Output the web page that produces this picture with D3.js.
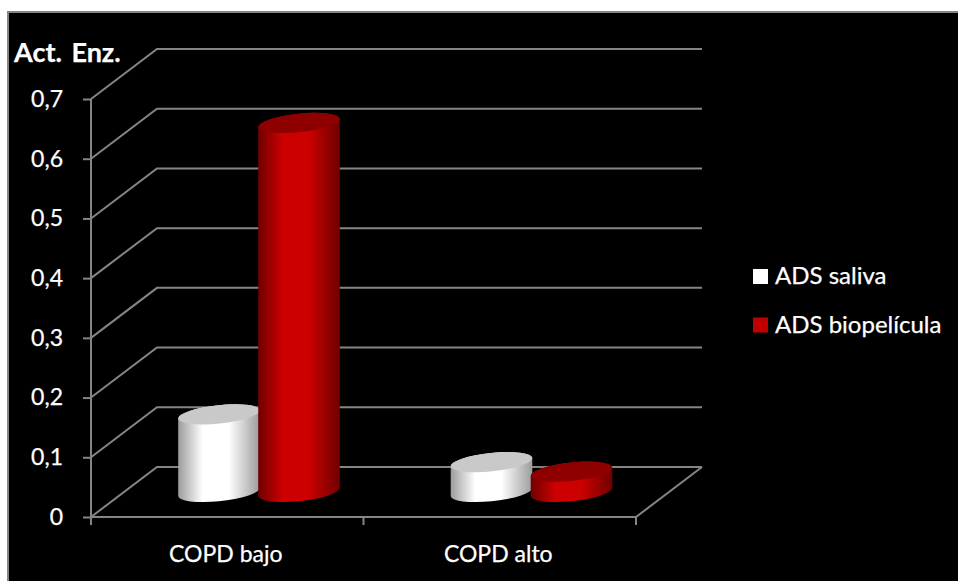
<!DOCTYPE html>
<html>
<head>
<meta charset="utf-8">
<script src="https://cdn.jsdelivr.net/npm/d3@7"></script>
<style>
html, body { margin: 0; padding: 0; background: #fff; }
svg { display: block; }
text { font-family: Lato, "Open Sans", sans-serif; fill: #fff; stroke: #fff; stroke-width: 0.25; }
</style>
</head>
<body>
<svg id="chart" width="958" height="581"></svg>
<script>
const categories = ["COPD bajo", "COPD alto"];
const seriesNames = ["ADS saliva", "ADS biopelícula"];
const salivaValues = [0.13, 0.05];
const biofilmValues = [0.618, 0.034];
const yTicks = [0, 0.1, 0.2, 0.3, 0.4, 0.5, 0.6, 0.7];
const yTitle = "Act. Enz.";

const W = 958, H = 581;
const svg = d3.select("#chart");

// Chart panel
svg.append("rect").attr("x", 8).attr("y", 12).attr("width", W).attr("height", H)
  .attr("fill", "#000").attr("stroke", "#858585").attr("stroke-width", 2);

// Oblique projection: the back wall sits up and to the right of the front plane
const depth = { x: 66, y: -50 };
const x0 = d3.scaleBand().domain(categories).range([91, 636]);
const x1 = d3.scaleBand().domain(seriesNames).range([88, 248]);
const y = d3.scaleLinear().domain([0, 0.7]).range([517, 99]);

const seriesStyle = [
  { values: salivaValues, edge: "#9c9c9c", mid: "#ffffff", top: "#c9c9c9", swatch: "#ffffff", id: "cylWhite" },
  { values: biofilmValues, edge: "#700000", mid: "#cc0000", top: "#8e0000", swatch: "#c00000", id: "cylRed" }
];

const defs = svg.append("defs");
seriesStyle.forEach(s => {
  const g = defs.append("linearGradient").attr("id", s.id)
    .attr("x1", 0).attr("x2", 1).attr("y1", 0).attr("y2", 0);
  [[0, s.edge], [0.3, s.mid], [0.62, s.mid], [1, s.edge]].forEach(([o, c]) =>
    g.append("stop").attr("offset", o).attr("stop-color", c));
});

// Grid: wall lines plus the floor outline
const gridColor = "#858585";
const grid = svg.append("g").attr("fill", "none").attr("stroke", gridColor).attr("stroke-width", 2);
const xL = x0.range()[0], xR = x0.range()[1];
const line = d3.line();
yTicks.forEach(t => {
  grid.append("path").attr("d", line([
    [xL, y(t)], [xL + depth.x, y(t) + depth.y], [xR + depth.x, y(t) + depth.y]
  ]));
});
grid.append("path").attr("d", line([
  [xL, y(0)], [xR, y(0)], [xR + depth.x, y(0) + depth.y]
]));

// Value axis
grid.append("path").attr("d", line([[xL, y(0)], [xL, y(0.7)]]));
const yAxis = d3.axisLeft(y).tickValues(yTicks).tickSize(8).tickPadding(20)
  .tickFormat(v => v === 0 ? "0" : d3.format(".1f")(v).replace(".", ","));
const yG = svg.append("g").attr("transform", `translate(${xL},0)`).call(yAxis);
yG.select(".domain").remove();
yG.selectAll("line").attr("stroke", gridColor).attr("stroke-width", 2);
yG.selectAll("text").attr("font-size", 23).attr("fill", "#fff");

// Category axis
[xL, xL + x0.bandwidth(), xR].forEach(tx => {
  grid.append("path").attr("d", line([[tx, y(0)], [tx, y(0) + 8]]));
});
svg.selectAll(".cat").data(categories).join("text").attr("class", "cat")
  .attr("x", d => x0(d) + x0.bandwidth() / 2 - 1.5)
  .attr("y", 562).attr("text-anchor", "middle").attr("font-size", 23).text(d => d);

// Cylinders, each a tilted ellipse top over a shaded body
const rx = 41, ry = 9.2, tilt = -6;
const th = tilt * Math.PI / 180;
const baseValue = y.invert(492);
const tangent = (() => {
  const t = Math.atan(-(ry / rx) * Math.tan(th));
  return {
    x: rx * Math.cos(t) * Math.cos(th) - ry * Math.sin(t) * Math.sin(th),
    y: rx * Math.cos(t) * Math.sin(th) + ry * Math.sin(t) * Math.cos(th)
  };
})();

function bodyPath(cx, yTop, yBase) {
  const dx = tangent.x, dy = tangent.y;
  return `M${cx - dx},${yTop - dy}L${cx - dx},${yBase - dy}` +
    `A${rx},${ry} ${tilt} 0 0 ${cx + dx},${yBase + dy}` +
    `L${cx + dx},${yTop + dy}` +
    `A${rx},${ry} ${tilt} 0 0 ${cx - dx},${yTop - dy}Z`;
}

seriesStyle.forEach((s, si) => {
  categories.forEach((c, ci) => {
    const cx = x0(c) + x1(seriesNames[si]) + x1.bandwidth() / 2;
    const yTop = y(s.values[ci] + baseValue);
    const yBase = y(baseValue);
    const g = svg.append("g");
    g.append("path").attr("d", bodyPath(cx, yTop, yBase)).attr("fill", `url(#${s.id})`);
    g.append("ellipse").attr("rx", rx).attr("ry", ry)
      .attr("transform", `translate(${cx},${yTop}) rotate(${tilt})`)
      .attr("fill", s.top);
  });
});

// Axis title
svg.append("text").attr("x", 14).attr("y", 62).attr("font-size", 27).attr("font-weight", 700)
  .attr("word-spacing", 3).text(yTitle);

// Legend
const legend = svg.selectAll(".leg").data(seriesStyle).join("g").attr("class", "leg")
  .attr("transform", (d, i) => `translate(753,${277 + i * 48.5})`);
legend.append("rect").attr("x", 0).attr("y", -8).attr("width", 15).attr("height", 15)
  .attr("fill", d => d.swatch);
legend.append("text").attr("x", 22).attr("y", 7).attr("font-size", 24)
  .text((d, i) => seriesNames[i]);
</script>
</body>
</html>
